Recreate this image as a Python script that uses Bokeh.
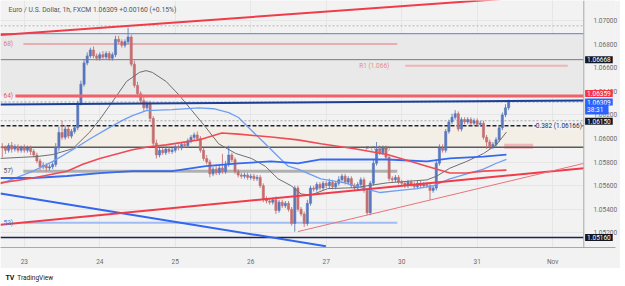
from bokeh.plotting import figure
from bokeh.models import Label, FixedTicker, PrintfTickFormatter, Range1d
from bokeh.layouts import column
from bokeh.embed import file_html
from bokeh.resources import INLINE

FONT = "Roboto"
BG = "#f2f2f2"

# ---------------- data (bar 0 = 23 Oct 00:00, hourly) ----------------
start_bar = -7
first_open = 1.0593
closes = [
    1.0592, 1.0590, 1.0594, 1.0591, 1.0593, 1.0590, 1.0592, 1.0590, 1.0592, 1.0589,
    1.0586, 1.0581, 1.0576, 1.0577, 1.0575, 1.0576, 1.0578, 1.0592, 1.0605, 1.0601,
    1.0608, 1.0602, 1.0606, 1.0609, 1.0630, 1.0646, 1.0664, 1.0670, 1.0675, 1.0670,
    1.0668, 1.0671, 1.0669, 1.0672, 1.0668, 1.0671, 1.0684, 1.0682, 1.0679, 1.0682,
    1.0686, 1.0663, 1.0645, 1.0638, 1.0632, 1.0626, 1.0630, 1.0617, 1.0596, 1.0586,
    1.0590, 1.0588, 1.0591, 1.0589, 1.0590, 1.0593, 1.0592, 1.0595, 1.0594, 1.0598,
    1.0601, 1.0603, 1.0600, 1.0590, 1.0583, 1.0580, 1.0570, 1.0574, 1.0571, 1.0575,
    1.0572, 1.0578, 1.0586, 1.0582, 1.0572, 1.0569, 1.0568, 1.0569, 1.0567, 1.0568,
    1.0566, 1.0567, 1.0560, 1.0549, 1.0547, 1.0546, 1.0548, 1.0539, 1.0546, 1.0543,
    1.0545, 1.0540, 1.0528, 1.0558, 1.0540, 1.0536, 1.0528, 1.0545, 1.0558, 1.0557,
    1.0561, 1.0558, 1.0562, 1.0560, 1.0563, 1.0559, 1.0562, 1.0565, 1.0568, 1.0563,
    1.0566, 1.0560, 1.0558, 1.0561, 1.0565, 1.0556, 1.0537, 1.0562, 1.0579, 1.0591,
    1.0588, 1.0592, 1.0584, 1.0566, 1.0565, 1.0567, 1.0563, 1.0562, 1.0560, 1.0563,
    1.0561, 1.0559, 1.0562, 1.0560, 1.0561, 1.0560, 1.0556, 1.0558, 1.0579, 1.0592,
    1.0590, 1.0606, 1.0614, 1.0618, 1.0621, 1.0608, 1.0616, 1.0614, 1.0616, 1.0613,
    1.0615, 1.0612, 1.0613, 1.0601, 1.0597, 1.0593, 1.0595, 1.0599, 1.0609, 1.0620,
    1.0626, 1.06309,
]
upper_wick_pips = [
    3, 2, 2, 3, 2, 2, 2, 3, 2, 2,
    2, 2, 2, 3, 2, 2, 2, 4, 5, 10,
    3, 3, 2, 2, 2, 3, 3, 3, 2, 3,
    2, 2, 3, 2, 2, 2, 3, 3, 2, 2,
    8, 2, 3, 3, 2, 3, 2, 2, 2, 3,
    2, 2, 2, 2, 2, 2, 2, 2, 2, 2,
    2, 2, 3, 2, 2, 3, 2, 2, 4, 3,
    12, 3, 8, 2, 2, 2, 2, 2, 2, 2,
    2, 2, 2, 2, 2, 2, 2, 3, 2, 2,
    2, 2, 2, 2, 2, 2, 2, 3, 2, 2,
    2, 2, 2, 2, 3, 2, 2, 3, 2, 2,
    2, 2, 2, 2, 2, 2, 2, 2, 3, 6,
    3, 2, 2, 2, 2, 2, 2, 2, 2, 2,
    2, 2, 2, 2, 2, 2, 2, 2, 3, 3,
    3, 2, 2, 3, 3, 2, 2, 2, 2, 2,
    2, 2, 2, 2, 2, 2, 2, 2, 2, 2,
    3, 2,
]
lower_wick_pips = [
    8, 3, 2, 3, 2, 2, 2, 2, 2, 3,
    2, 2, 3, 2, 3, 2, 2, 2, 3, 2,
    2, 2, 2, 2, 2, 2, 2, 2, 2, 2,
    2, 2, 2, 2, 2, 2, 2, 2, 2, 2,
    2, 2, 2, 3, 2, 3, 2, 3, 2, 3,
    2, 2, 2, 2, 2, 2, 2, 2, 2, 2,
    2, 2, 2, 2, 2, 2, 3, 2, 2, 2,
    2, 2, 2, 2, 2, 2, 2, 2, 2, 2,
    2, 2, 2, 3, 2, 2, 2, 3, 2, 2,
    2, 2, 2, 7, 2, 2, 3, 2, 2, 2,
    2, 2, 2, 2, 2, 2, 2, 2, 2, 2,
    2, 2, 2, 2, 2, 2, 2, 2, 2, 2,
    2, 2, 2, 2, 2, 2, 2, 2, 2, 2,
    2, 2, 2, 2, 2, 2, 8, 2, 2, 2,
    2, 2, 2, 2, 2, 2, 2, 2, 2, 2,
    2, 2, 2, 2, 6, 2, 2, 2, 2, 2,
    2, 2,
]

day_ticks = [0, 24, 48, 72, 96, 120, 144, 168]
day_labels = ["23", "24", "25", "26", "27", "30", "31", "Nov"]
price_ticks = [1.052, 1.054, 1.056, 1.058, 1.060, 1.062, 1.064, 1.066, 1.068, 1.070]

# moving averages (bar, price)
gray_ma_bars = [-7.6, 4.1, 9.1, 15.4, 20.8, 24.0, 29.3, 32.5, 36.6, 38.7, 40.7, 45.1, 49.2, 53.3, 57.7,
                61.8, 67.2, 72.2, 76.6, 80.7, 84.8, 88.0, 91.1, 96.5, 105.0, 115.4, 128.0, 131.2,
                135.3, 140.7, 146.0, 150.1, 153.3]
gray_ma_vals = [1.05831, 1.05847, 1.05864, 1.05913, 1.06054, 1.06161, 1.06360, 1.06483, 1.06560, 1.06575,
                1.06560, 1.06483, 1.06368, 1.06236, 1.06095, 1.05955, 1.05873, 1.05831, 1.05765, 1.05658,
                1.05600, 1.05530, 1.05520, 1.05575, 1.05583, 1.05624, 1.05649, 1.05682, 1.05748, 1.05806,
                1.05872, 1.05946, 1.06054]
lblue_ma_bars = [-7.6, 2.8, 9.1, 15.4, 20.8, 26.2, 31.2, 34.4, 38.8, 47.0, 55.5, 60.2, 65.0, 68.1, 72.2,
                 76.6, 80.7, 83.9, 87.0, 94.3, 101.9, 108.2, 113.2, 118.6, 124.9, 130.2, 135.3, 140.7,
                 146.0, 150.1, 153.3]
lblue_ma_vals = [1.05616, 1.05723, 1.05806, 1.05905, 1.05996, 1.06079, 1.06153, 1.06194, 1.06236, 1.06244,
                 1.06260, 1.06252, 1.06219, 1.06178, 1.06070, 1.05955, 1.05847, 1.05765, 1.05740, 1.05657,
                 1.05624, 1.05575, 1.05542, 1.05558, 1.05575, 1.05600, 1.05657, 1.05699, 1.05740, 1.05790,
                 1.05822]
blue_ma_bars = [-7.6, 2.8, 13.6, 24.0, 34.4, 47.0, 57.7, 68.1, 78.5, 87.0, 94.3, 105.0, 115.4, 128.0,
                135.3, 146.0, 153.3]
blue_ma_vals = [1.05665, 1.05665, 1.05682, 1.05707, 1.05723, 1.05723, 1.05765, 1.05789, 1.05806, 1.05789,
                1.05822, 1.05822, 1.05822, 1.05806, 1.05831, 1.05847, 1.05864]
red_ma_bars = [-7.6, 2.8, 13.6, 18.6, 24.0, 34.4, 39.7, 45.1, 55.5, 62.8, 68.1, 78.5, 87.0, 94.3, 105.0,
               115.4, 120.8, 128.0, 135.3, 140.7, 146.0, 153.3]
red_ma_vals = [1.05624, 1.05665, 1.05723, 1.05781, 1.05831, 1.05905, 1.05930, 1.05946, 1.05988, 1.06046,
               1.06037, 1.06012, 1.05988, 1.05955, 1.05913, 1.05864, 1.05822, 1.05765, 1.05707, 1.05707,
               1.05723, 1.05732]

# chart extents: bars shown and price scale (frame includes the price-scale strip)
X0, X1 = -7.57, 177.9          # chart pane
XR = 187.98                    # right end of price-scale strip
Y0, Y1 = 1.05076, 1.071694

# drawings: trend lines (bars, prices)
red_top_line = ([X0, X1], [1.06877, 1.07232])
blue_down_line = ([X0, 95.9], [1.05533, 1.05087])
red_up_line = ([X0, X1], [1.05269, 1.05748])
red_thin_line = ([87.0, X1], [1.05211, 1.05789])
navy_line = ([X0, X1], [1.06289, 1.06322])

# horizontal levels
lvl_top_dotted = 1.06955
lvl_blue = 1.06888
lvl_r2 = 1.0680
lvl_gray = 1.06668
lvl_r1 = 1.06616
lvl_red = 1.0636
lvl_last = 1.06309
lvl_dot = 1.0615
lvl_fib = 1.06107
lvl_pivot = 1.05926
lvl_s1 = 1.05723
lvl_s2 = 1.05285
lvl_low = 1.0516
pink_zone = ([152.6, 161.8], [1.05913, 1.05955])

# ---------------- derived candle arrays ----------------
bars = list(range(start_bar, start_bar + len(closes)))
opens = [first_open] + closes[:-1]
highs = [max(o, c) + u * 1e-4 for o, c, u in zip(opens, closes, upper_wick_pips)]
lows = [min(o, c) - l * 1e-4 for o, c, l in zip(opens, closes, lower_wick_pips)]
UP, DN = "#5877bd", "#c46e6e"
cols = [UP if c >= o else DN for o, c in zip(opens, closes)]
tops = [max(o, c) for o, c in zip(opens, closes)]
bots = [min(o, c) for o, c in zip(opens, closes)]

p = figure(width=620, height=268, x_range=Range1d(X0, XR), y_range=Range1d(Y0, Y1),
           output_backend="svg", toolbar_location=None, y_axis_location="right",
           min_border_left=0, min_border_top=0, min_border_right=0, min_border_bottom=15,
           background_fill_color=BG, border_fill_color=BG)
p.outline_line_color = None

# axes
p.xaxis.ticker = FixedTicker(ticks=day_ticks)
p.xaxis.major_label_overrides = {t: l for t, l in zip(day_ticks, day_labels)}
p.yaxis.ticker = FixedTicker(ticks=price_ticks)
p.yaxis.formatter = PrintfTickFormatter(format="%.5f")
for ax in (p.xaxis[0], p.yaxis[0]):
    ax.axis_line_color = "#a9a9a9"
    ax.major_tick_line_color = None
    ax.minor_tick_line_color = None
    ax.major_label_text_font = FONT
    ax.major_label_text_font_size = "6.5px"
    ax.major_label_text_color = "#6b6b6b"
p.xaxis.major_label_standoff = 4
p.yaxis.axis_line_color = None
p.yaxis.major_label_standoff = -28   # labels sit inside the price-scale strip
p.xgrid.grid_line_color = "#e6e6e6"
p.ygrid.grid_line_color = "#e6e6e6"

# shaded zones
p.quad(left=X0, right=X1, bottom=lvl_red, top=lvl_blue, fill_color="#e9e9e9", line_color=None)
p.quad(left=X0, right=X1, bottom=lvl_pivot, top=lvl_fib, fill_color="#f3eee6", line_color=None)
p.quad(left=pink_zone[0][0], right=pink_zone[0][1], bottom=pink_zone[1][0], top=pink_zone[1][1],
       fill_color="#f2a3aa", fill_alpha=0.75, line_color=None)

# horizontal levels under candles
p.segment(x0=X0, y0=lvl_top_dotted, x1=X1, y1=lvl_top_dotted, line_color="#b5b5b5", line_width=1, line_dash="2 2")
p.segment(x0=X0, y0=lvl_blue, x1=X1, y1=lvl_blue, line_color="#5b7fd6", line_width=1)
p.segment(x0=-0.32, y0=lvl_r2, x1=118.6, y1=lvl_r2, line_color="#e39a9f", line_width=1.5)
p.segment(x0=X0, y0=lvl_gray, x1=X1, y1=lvl_gray, line_color="#7a7a7a", line_width=1)
p.segment(x0=121.1, y0=lvl_r1, x1=172.8, y1=lvl_r1, line_color="#f1b3b7", line_width=2)
p.segment(x0=X0, y0=lvl_last, x1=X1, y1=lvl_last, line_color="#8da2c8", line_width=1, line_dash="2 2")
p.segment(x0=X0, y0=lvl_dot, x1=X1, y1=lvl_dot, line_color="#a5a5a5", line_width=1, line_dash="2 2")
p.segment(x0=X0, y0=lvl_fib, x1=X1, y1=lvl_fib, line_color="#1f2433", line_width=1.5, line_dash="4 2")
p.segment(x0=X0, y0=lvl_pivot, x1=X1, y1=lvl_pivot, line_color="#5a5a5a", line_width=1.5)
p.segment(x0=-0.32, y0=lvl_s1, x1=118.6, y1=lvl_s1, line_color="#a8a8a8", line_width=3, line_alpha=0.9)
p.segment(x0=-0.32, y0=lvl_s2, x1=118.6, y1=lvl_s2, line_color="#9fbdf4", line_width=2)
p.segment(x0=X0, y0=lvl_low, x1=X1, y1=lvl_low, line_color="#1a2352", line_width=1.5)

# candles
p.segment(x0=bars, y0=highs, x1=bars, y1=lows, line_color=cols, line_width=1, line_alpha=0.85)
p.vbar(x=bars, width=0.68, top=tops, bottom=bots, fill_color=cols, line_color=cols, line_width=0.6)

# indicators
p.line(gray_ma_bars, gray_ma_vals, line_color="#6e6e6e", line_width=1)
p.line(lblue_ma_bars, lblue_ma_vals, line_color="#6d9ef3", line_width=1.3)
p.line(blue_ma_bars, blue_ma_vals, line_color="#356af0", line_width=1.8)
p.line(red_ma_bars, red_ma_vals, line_color="#f04a57", line_width=1.6)

# drawings on top
p.segment(x0=-2.84, y0=lvl_red, x1=X1, y1=lvl_red, line_color="#f2606a", line_width=3)
p.line(*navy_line, line_color="#1d3f96", line_width=2)
p.line(*red_top_line, line_color="#f03c4a", line_width=2)
p.line(*blue_down_line, line_color="#3266ef", line_width=2)
p.line(*red_up_line, line_color="#f03c4a", line_width=2)
p.line(*red_thin_line, line_color="#e8747c", line_width=1)

# price-scale strip background and its border
p.quad(left=X1, right=XR, bottom=Y0, top=Y1, fill_color=BG, line_color=None)
p.segment(x0=X1, y0=Y0, x1=X1, y1=Y1, line_color="#a9a9a9", line_width=1)

# texts inside chart
def lab(x, y, text, color, size="6.5px", align="left", base="middle", **kw):
    p.add_layout(Label(x=x, y=y, text=text, text_color=color, text_font=FONT, text_font_size=size,
                       text_align=align, text_baseline=base, **kw))

lab(-5.0, 1.07087, "Euro / U.S. Dollar, 1h, FXCM  1.06309  +0.00160 (+0.15%)", "#555555", size="6.8px")
lab(-6.6, lvl_r2, "68)", "#e0787f")
lab(-6.6, lvl_red, "64)", "#e2555f")
lab(-6.6, lvl_s1, "57)", "#555555")
lab(-6.6, lvl_s2, "53)", "#4a78e0")
lab(106.5, lvl_r1, "R1 (1.066)", "#e88a90")
lab(108.5, lvl_pivot, "P (1.059)", "#777777", size="6px")
lab(177.3, lvl_fib, "0.382 (1.06166)", "#1f2a55", align="right", background_fill_color=BG)

# price tags on the axis
def tag(y, text, bg, dy=0):
    p.add_layout(Label(x=178.0, y=y, text=text, text_color="white", text_font=FONT, text_font_size="6.5px",
                       text_baseline="middle", background_fill_color=bg, padding=dict(x=2, y=1),
                       x_offset=1, y_offset=dy))

tag(lvl_gray, "1.06668", "#131722")
tag(1.06359, "1.06359", "#f23645", dy=2.5)
tag(lvl_last, "1.06309", "#2962ff")
tag(lvl_last, "38:31  ", "#2962ff", dy=-7.5)
tag(lvl_dot, "1.06150", "#131722", dy=-0.5)
tag(lvl_low, "1.05160", "#131722")

# footer strip with the logo text
p2 = figure(width=625, height=18, x_range=Range1d(0, 625), y_range=Range1d(0, 18),
            output_backend="svg", toolbar_location=None, min_border=0,
            background_fill_color="white", border_fill_color="white")
p2.axis.visible = False
p2.grid.visible = False
p2.outline_line_color = None
p2.add_layout(Label(x=5, y=9, text="TV", text_color="#131722", text_font=FONT, text_font_size="7px",
                    text_font_style="bold", text_baseline="middle"))
p2.add_layout(Label(x=17, y=9, text="TradingView", text_color="#131722", text_font=FONT,
                    text_font_size="6.5px", text_baseline="middle"))

layout = column(p, p2, spacing=0)
open("out.html", "w").write(file_html(layout, INLINE))
